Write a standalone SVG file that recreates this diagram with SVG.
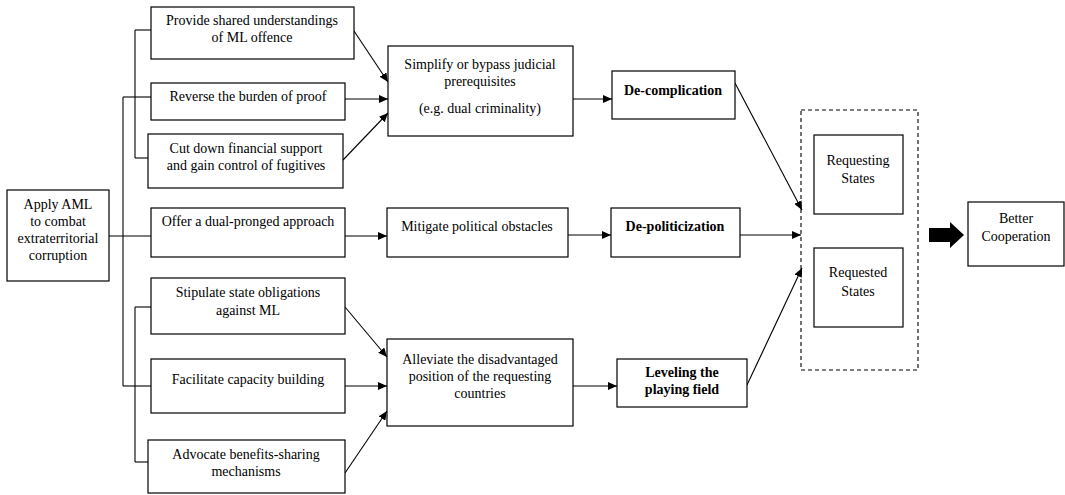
<svg xmlns="http://www.w3.org/2000/svg" width="1065" height="495" viewBox="0 0 1065 495">
<style>
.box{fill:#fff;stroke:#000;stroke-width:1.2}
text{font-family:'Liberation Serif','Times New Roman',Times,serif;font-size:14px;fill:#000;text-anchor:middle}
.b{font-weight:bold}
.ln{fill:none;stroke:#000;stroke-width:1.1}
.arr{fill:none;stroke:#000;stroke-width:1.1;marker-end:url(#ah)}
</style>
<defs>
<marker id="ah" markerUnits="userSpaceOnUse" markerWidth="10" markerHeight="8" refX="9" refY="4" orient="auto">
<path d="M0,0 L9,4 L0,8 Z" fill="#000"/>
</marker>
</defs>
<rect width="1065" height="495" fill="#fff"/>

<g id="connectors">
<path class="ln" d="M109,236 H151"/>
<path class="ln" d="M123,97 V386"/>
<path class="ln" d="M123,97 H151"/>
<path class="ln" d="M123,386 H151"/>
<path class="ln" d="M135,30 V158"/>
<path class="ln" d="M135,30 H151"/>
<path class="ln" d="M135,158 H148"/>
<path class="ln" d="M135,307 V462"/>
<path class="ln" d="M135,307 H151"/>
<path class="ln" d="M135,462 H148"/>
<path class="arr" d="M354,31 L388,82"/>
<path class="arr" d="M345,99 H388"/>
<path class="arr" d="M343,160 L388,113"/>
<path class="arr" d="M573,99 H612"/>
<path class="arr" d="M345,236 H387"/>
<path class="arr" d="M568,235 H611"/>
<path class="arr" d="M345,307 L387,357"/>
<path class="arr" d="M345,386 H387"/>
<path class="arr" d="M345,473 L387,411"/>
<path class="arr" d="M573,386 H617"/>
<path class="arr" d="M735,83 L802,210"/>
<path class="arr" d="M740,235 H801"/>
<path class="arr" d="M747,385 L802,268"/>
</g>

<g id="apply">
<rect class="box" x="7" y="190" width="102" height="91"/>
<text x="58" y="209">Apply AML</text>
<text x="58" y="226">to combat</text>
<text x="58" y="243">extraterritorial</text>
<text x="58" y="260">corruption</text>
</g>

<g id="provide">
<rect class="box" x="151" y="7" width="203" height="52"/>
<text x="252" y="25">Provide shared understandings</text>
<text x="252" y="42">of ML offence</text>
</g>
<g id="reverse">
<rect class="box" x="151" y="83" width="194" height="37"/>
<text x="248" y="101">Reverse the burden of proof</text>
</g>
<g id="cutdown">
<rect class="box" x="148" y="134" width="195" height="54"/>
<text x="246" y="153">Cut down financial support</text>
<text x="246" y="170">and gain control of fugitives</text>
</g>
<g id="offer">
<rect class="box" x="151" y="208" width="194" height="49"/>
<text x="248" y="226">Offer a dual-pronged approach</text>
</g>
<g id="stipulate">
<rect class="box" x="151" y="278" width="194" height="56"/>
<text x="248" y="297">Stipulate state obligations</text>
<text x="248" y="315">against ML</text>
</g>
<g id="facilitate">
<rect class="box" x="151" y="359" width="194" height="54"/>
<text x="248" y="384">Facilitate capacity building</text>
</g>
<g id="advocate">
<rect class="box" x="148" y="440" width="197" height="53"/>
<text x="246" y="459">Advocate benefits-sharing</text>
<text x="246" y="476">mechanisms</text>
</g>

<g id="simplify">
<rect class="box" x="388" y="46" width="185" height="90"/>
<text x="480" y="69">Simplify or bypass judicial</text>
<text x="480" y="86">prerequisites</text>
<text x="480" y="113">(e.g. dual criminality)</text>
</g>
<g id="mitigate">
<rect class="box" x="387" y="208" width="181" height="49"/>
<text x="477" y="231">Mitigate political obstacles</text>
</g>
<g id="alleviate">
<rect class="box" x="387" y="339" width="186" height="87"/>
<text x="480" y="364">Alleviate the disadvantaged</text>
<text x="480" y="381">position of the requesting</text>
<text x="480" y="398">countries</text>
</g>

<g id="decomplication">
<rect class="box" x="612" y="71" width="123" height="48"/>
<text class="b" x="673" y="95">De-complication</text>
</g>
<g id="depoliticization">
<rect class="box" x="611" y="208" width="129" height="49"/>
<text class="b" x="675" y="231">De-politicization</text>
</g>
<g id="leveling">
<rect class="box" x="617" y="359" width="130" height="48"/>
<text class="b" x="682" y="377">Leveling the</text>
<text class="b" x="682" y="394">playing field</text>
</g>

<g id="states">
<rect x="801" y="110" width="117" height="260" fill="none" stroke="#000" stroke-width="1.1" stroke-dasharray="4,3"/>
<g id="requesting">
<rect class="box" x="814" y="135" width="89" height="79"/>
<text x="858" y="165">Requesting</text>
<text x="858" y="183">States</text>
</g>
<g id="requested">
<rect class="box" x="814" y="248" width="89" height="79"/>
<text x="858" y="277">Requested</text>
<text x="858" y="296">States</text>
</g>
</g>

<g id="bigarrow">
<path d="M929,228 H950 V222 L964,235 L950,248 V242 H929 Z" fill="#000"/>
</g>

<g id="better">
<rect class="box" x="968" y="202" width="96" height="64"/>
<text x="1016" y="223">Better</text>
<text x="1016" y="241">Cooperation</text>
</g>
</svg>
